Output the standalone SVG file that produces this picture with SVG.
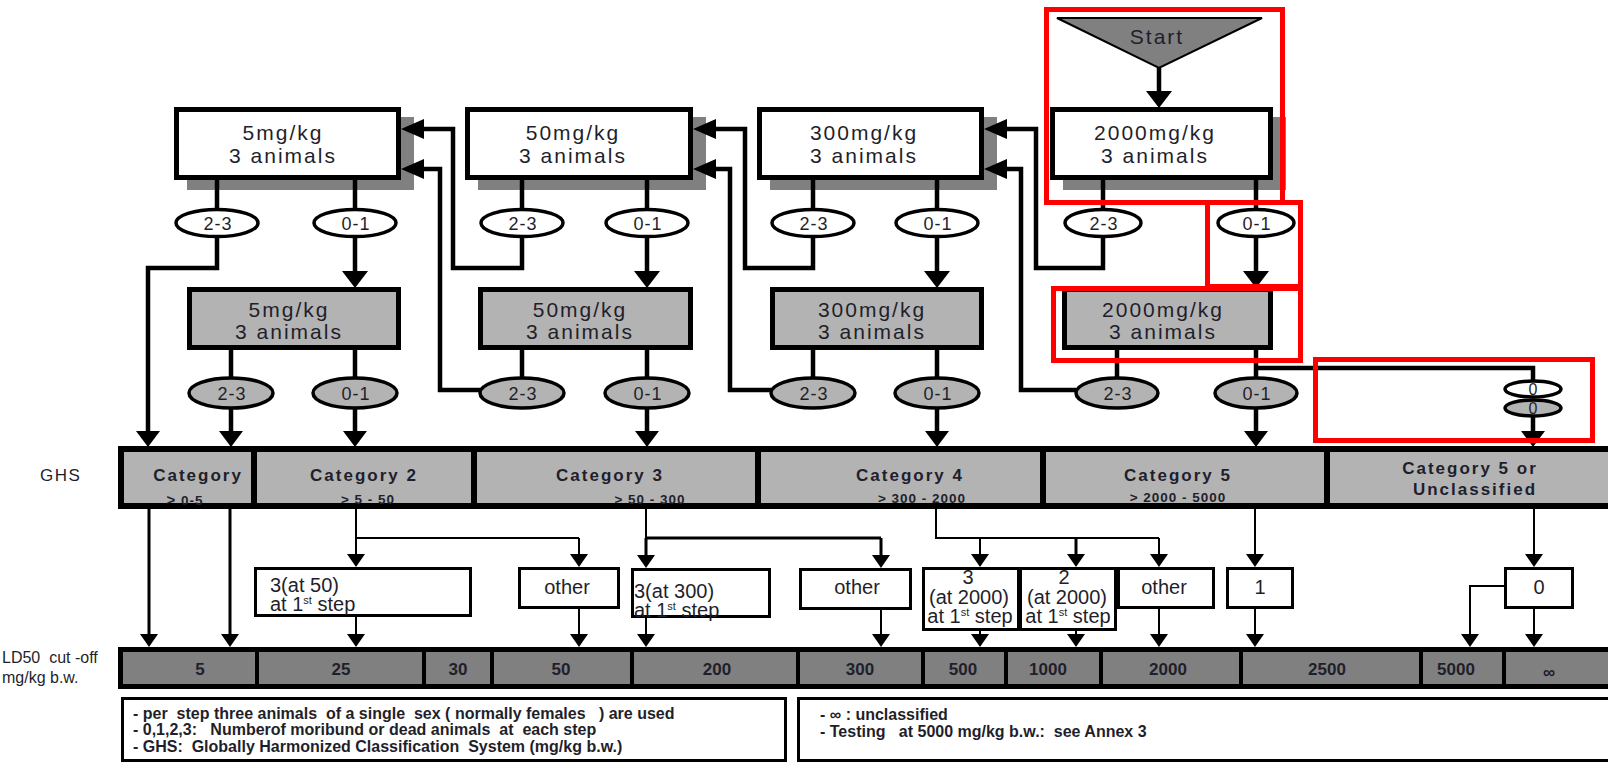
<svg xmlns="http://www.w3.org/2000/svg" xmlns:xlink="http://www.w3.org/1999/xlink" width="1608" height="763" viewBox="0 0 1608 763">
<style>
.t{font-family:"Liberation Sans",Arial,sans-serif;fill:#1f1f2b}
.dose{font-size:21px;letter-spacing:2px;text-anchor:middle}
.el{font-size:18px;letter-spacing:1px;text-anchor:middle}
.cat{font-size:17px;font-weight:bold;letter-spacing:2px;text-anchor:middle}
.sub{font-size:13.5px;font-weight:bold;letter-spacing:1px;text-anchor:middle}
.rt{font-size:20px}
.mid{text-anchor:middle}
.ld{font-size:17px;font-weight:bold;text-anchor:middle}
.leg{font-size:16px;font-weight:bold;white-space:pre}
.lab{font-size:16px;white-space:pre}
.wbox{fill:#fff;stroke:#000;stroke-width:5}
.gbox{fill:#b3b3b3;stroke:#000;stroke-width:5}
.shadow{fill:#808080}
.ew{fill:#fff;stroke:#000;stroke-width:3.5}
.eg{fill:#b3b3b3;stroke:#000;stroke-width:3.5}
.res{fill:#fff;stroke:#000;stroke-width:3}
.bar{fill:#b3b3b3;stroke:#000;stroke-width:6}
.ldbar{fill:#808080;stroke:#000;stroke-width:5}
.div{stroke:#000;stroke-width:6}
.ldiv{stroke:#000;stroke-width:4}
.legbox{fill:#fff;stroke:#000;stroke-width:3}
.thick{stroke:#000;stroke-width:4.5;fill:none;stroke-linejoin:miter}
.thin{stroke:#000;stroke-width:2;fill:none}
.med{stroke:#000;stroke-width:3;fill:none}
.red{fill:none;stroke:#ff0000;stroke-width:5}
</style>
<defs>
<polygon id="aB" points="-13,-17 13,-17 0,0" fill="#000"/>
<polygon id="aM" points="-12,-16 12,-16 0,0" fill="#000"/>
<polygon id="aS" points="-9,-13 9,-13 0,0" fill="#000"/>
<polygon id="aL" points="0,0 23,-10 23,10" fill="#000"/>
</defs>
<rect width="1608" height="763" fill="#fff"/>

<!-- start -->
<g id="start">
<polygon points="1057,18 1262,18 1159,68" fill="#808080" stroke="#000" stroke-width="2"/>
<text class="t" x="1157" y="44" font-size="21" letter-spacing="2" text-anchor="middle">Start</text>
</g>

<!-- top white boxes -->
<g id="w5">
<rect class="shadow" x="187" y="117" width="227" height="73"/>
<rect class="wbox" x="176.5" y="109.5" width="222" height="68"/>
<text class="t dose" x="283" y="140">5mg/kg</text>
<text class="t dose" x="283" y="163">3 animals</text>
</g>
<g id="w50">
<rect class="shadow" x="478" y="117" width="228" height="73"/>
<rect class="wbox" x="467.5" y="109.5" width="223" height="68"/>
<text class="t dose" x="573" y="140">50mg/kg</text>
<text class="t dose" x="573" y="163">3 animals</text>
</g>
<g id="w300">
<rect class="shadow" x="770" y="117" width="227" height="73"/>
<rect class="wbox" x="759.5" y="109.5" width="222" height="68"/>
<text class="t dose" x="864" y="140">300mg/kg</text>
<text class="t dose" x="864" y="163">3 animals</text>
</g>
<g id="w2000">
<rect class="shadow" x="1063" y="117" width="223" height="73"/>
<rect class="wbox" x="1052.5" y="109.5" width="218" height="68"/>
<text class="t dose" x="1155" y="140">2000mg/kg</text>
<text class="t dose" x="1155" y="163">3 animals</text>
</g>

<!-- gray boxes -->
<g id="g5">
<rect class="gbox" x="189.5" y="289.5" width="209" height="58"/>
<text class="t dose" x="289" y="317">5mg/kg</text>
<text class="t dose" x="289" y="339">3 animals</text>
</g>
<g id="g50">
<rect class="gbox" x="480.5" y="289.5" width="210" height="58"/>
<text class="t dose" x="580" y="317">50mg/kg</text>
<text class="t dose" x="580" y="339">3 animals</text>
</g>
<g id="g300">
<rect class="gbox" x="772.5" y="289.5" width="209" height="58"/>
<text class="t dose" x="872" y="317">300mg/kg</text>
<text class="t dose" x="872" y="339">3 animals</text>
</g>
<g id="g2000">
<rect class="gbox" x="1064.5" y="289.5" width="206" height="58"/>
<text class="t dose" x="1163" y="317">2000mg/kg</text>
<text class="t dose" x="1163" y="339">3 animals</text>
</g>

<!-- connectors -->
<g id="connectors">
<path class="thick" d="M1159 68V97"/>
<use xlink:href="#aB" x="1159" y="108"/>
<path class="thick" d="M217 180V210M355 180V210M522 180V210M647 180V210M813 180V210M937 180V210M1103 180V210M1256 180V210"/>
<path class="thick" d="M355 236V278M647 236V278M937 236V278M1256 236V278"/>
<use xlink:href="#aB" x="355" y="288"/>
<use xlink:href="#aB" x="647" y="288"/>
<use xlink:href="#aB" x="937" y="288"/>
<use xlink:href="#aB" x="1256" y="288"/>
<path class="thick" d="M217 236V268H148V436"/>
<use xlink:href="#aM" x="148" y="447"/>
<path class="thick" d="M522 236V268H453V129H410"/>
<use xlink:href="#aL" x="401" y="129"/>
<path class="thick" d="M813 236V268H745V129H702"/>
<use xlink:href="#aL" x="693" y="129"/>
<path class="thick" d="M1103 236V268H1036V129H993"/>
<use xlink:href="#aL" x="984" y="129"/>
<path class="thick" d="M231 350V378M355 350V378M522 350V378M647 350V378M813 350V378M937 350V378M1117 350V378M1256 350V378"/>
<path class="thick" d="M231 408V436M355 408V436M647 408V436M937 408V436M1256 408V436"/>
<use xlink:href="#aM" x="231" y="447"/>
<use xlink:href="#aM" x="355" y="447"/>
<use xlink:href="#aM" x="647" y="447"/>
<use xlink:href="#aM" x="937" y="447"/>
<use xlink:href="#aM" x="1256" y="447"/>
<path class="thick" d="M481 390H440V169H410"/>
<use xlink:href="#aL" x="401" y="169"/>
<path class="thick" d="M772 390H730V169H702"/>
<use xlink:href="#aL" x="693" y="169"/>
<path class="thick" d="M1076 390H1021V169H993"/>
<use xlink:href="#aL" x="984" y="169"/>
<path class="thick" d="M1256 368H1533V381"/>
<path class="thick" d="M1533 416V436"/>
<use xlink:href="#aM" x="1533" y="447"/>

<!-- GHS to results / LD50 -->
<path class="med" d="M149 509V637M230 509V637" stroke-width="3.5"/>
<use xlink:href="#aS" x="149" y="647"/>
<use xlink:href="#aS" x="230" y="647"/>
<path class="thin" d="M356 509V538H579"/>
<path class="thin" d="M356 538V557M579 538V557M356 616V637M579 609V637"/>
<use xlink:href="#aS" x="356" y="567"/>
<use xlink:href="#aS" x="579" y="567"/>
<use xlink:href="#aS" x="356" y="647"/>
<use xlink:href="#aS" x="579" y="647"/>
<path class="thin" d="M646 509V538"/>
<path class="med" d="M646 538H881M646 538V558M881 538V558"/>
<path class="thin" d="M646 618V637M881 609V637"/>
<use xlink:href="#aS" x="646" y="568"/>
<use xlink:href="#aS" x="881" y="568"/>
<use xlink:href="#aS" x="646" y="647"/>
<use xlink:href="#aS" x="881" y="647"/>
<path class="thin" d="M936 509V538H1159M980 538V557M1159 538V557"/>
<path class="med" d="M1076 538V557"/>
<use xlink:href="#aS" x="980" y="567"/>
<use xlink:href="#aS" x="1076" y="567"/>
<use xlink:href="#aS" x="1159" y="567"/>
<path class="thin" d="M980 630V637M1076 630V637M1159 609V637"/>
<use xlink:href="#aS" x="980" y="647"/>
<use xlink:href="#aS" x="1076" y="647"/>
<use xlink:href="#aS" x="1159" y="647"/>
<path class="thin" d="M1255 509V557M1255 609V637"/>
<use xlink:href="#aS" x="1255" y="567"/>
<use xlink:href="#aS" x="1255" y="647"/>
<path class="thin" d="M1534 509V557M1534 609V637M1504 586H1470V637"/>
<use xlink:href="#aS" x="1534" y="567"/>
<use xlink:href="#aS" x="1534" y="647"/>
<use xlink:href="#aS" x="1470" y="647"/>
</g>

<!-- ellipses top row -->
<g id="e5a"><ellipse class="ew" cx="217" cy="223" rx="41" ry="13.5"/><text class="t el" x="218" y="229.5">2-3</text></g>
<g id="e5b"><ellipse class="ew" cx="355" cy="223" rx="41" ry="13.5"/><text class="t el" x="356" y="229.5">0-1</text></g>
<g id="e50a"><ellipse class="ew" cx="522" cy="223" rx="41" ry="13.5"/><text class="t el" x="523" y="229.5">2-3</text></g>
<g id="e50b"><ellipse class="ew" cx="647" cy="223" rx="41" ry="13.5"/><text class="t el" x="648" y="229.5">0-1</text></g>
<g id="e300a"><ellipse class="ew" cx="813" cy="223" rx="41" ry="13.5"/><text class="t el" x="814" y="229.5">2-3</text></g>
<g id="e300b"><ellipse class="ew" cx="937" cy="223" rx="41" ry="13.5"/><text class="t el" x="938" y="229.5">0-1</text></g>
<g id="e2000a"><ellipse class="ew" cx="1103" cy="223" rx="38" ry="13.5"/><text class="t el" x="1104" y="229.5">2-3</text></g>
<g id="e2000b"><ellipse class="ew" cx="1256" cy="223" rx="38" ry="13.5"/><text class="t el" x="1257" y="229.5">0-1</text></g>

<!-- ellipses gray row -->
<g id="f5a"><ellipse class="eg" cx="231" cy="393" rx="42" ry="15"/><text class="t el" x="232" y="399.5">2-3</text></g>
<g id="f5b"><ellipse class="eg" cx="355" cy="393" rx="42" ry="15"/><text class="t el" x="356" y="399.5">0-1</text></g>
<g id="f50a"><ellipse class="eg" cx="522" cy="393" rx="42" ry="15"/><text class="t el" x="523" y="399.5">2-3</text></g>
<g id="f50b"><ellipse class="eg" cx="647" cy="393" rx="42" ry="15"/><text class="t el" x="648" y="399.5">0-1</text></g>
<g id="f300a"><ellipse class="eg" cx="813" cy="393" rx="42" ry="15"/><text class="t el" x="814" y="399.5">2-3</text></g>
<g id="f300b"><ellipse class="eg" cx="937" cy="393" rx="42" ry="15"/><text class="t el" x="938" y="399.5">0-1</text></g>
<g id="f2000a"><ellipse class="eg" cx="1117" cy="393" rx="41" ry="15"/><text class="t el" x="1118" y="399.5">2-3</text></g>
<g id="f2000b"><ellipse class="eg" cx="1256" cy="393" rx="41" ry="15"/><text class="t el" x="1257" y="399.5">0-1</text></g>
<g id="z0"><ellipse class="ew" cx="1533" cy="389" rx="28" ry="8" stroke-width="2"/><text class="t mid" x="1533" y="395" font-size="16">0</text></g>
<g id="z1"><ellipse class="eg" cx="1533" cy="408" rx="28" ry="8" stroke-width="2"/><text class="t mid" x="1533" y="414" font-size="16">0</text></g>

<!-- GHS bar -->
<text class="t" x="40" y="481" font-size="17" letter-spacing="1.5">GHS</text>
<g id="ghs">
<rect class="bar" x="121" y="449" width="1495" height="57"/>
<path class="div" d="M254 446V509M474 446V509M758 446V509M1043 446V509M1327 446V509"/>
<text class="t cat" x="198" y="481">Category</text>
<text class="t sub" x="185" y="505"><tspan font-size="15">&gt;</tspan>  0-5</text>
<text class="t cat" x="364" y="481">Category 2</text>
<text class="t sub" x="368" y="504">&gt; 5 - 50</text>
<text class="t cat" x="610" y="481">Category 3</text>
<text class="t sub" x="650" y="504">&gt;  50 - 300</text>
<text class="t cat" x="910" y="481">Category 4</text>
<text class="t sub" x="922" y="503">&gt; 300 - 2000</text>
<text class="t cat" x="1178" y="481">Category 5</text>
<text class="t sub" x="1178" y="502">&gt;  2000 - 5000</text>
<text class="t cat" x="1470" y="474">Category 5 or</text>
<text class="t cat" x="1475" y="495">Unclassified</text>
</g>

<!-- result boxes -->
<g id="r50">
<rect class="res" x="255.5" y="568.5" width="215" height="47"/>
<text class="t rt" x="270" y="592">3(at 50)</text>
<text class="t rt" x="270" y="611">at 1<tspan font-size="11" dy="-7">st</tspan><tspan dy="7"> step</tspan></text>
</g>
<g id="ro2">
<rect class="res" x="519.5" y="568.5" width="99" height="39"/>
<text class="t rt mid" x="567" y="594">other</text>
</g>
<g id="r300">
<rect class="res" x="632.5" y="569.5" width="137" height="47"/>
<text class="t rt" x="634" y="598">3(at 300)</text>
<text class="t rt" x="634" y="617"> at 1<tspan font-size="11" dy="-7">st</tspan><tspan dy="7"> step</tspan></text>
</g>
<g id="ro3">
<rect class="res" x="800.5" y="569.5" width="110" height="39"/>
<text class="t rt mid" x="857" y="594">other</text>
</g>
<g id="r2000a">
<rect class="res" x="923.5" y="568.5" width="95" height="61"/>
<text class="t rt mid" x="968" y="584">3</text>
<text class="t rt mid" x="969" y="604">(at 2000)</text>
<text class="t rt mid" x="970" y="623">at 1<tspan font-size="11" dy="-7">st</tspan><tspan dy="7"> step</tspan></text>
</g>
<g id="r2000b">
<rect class="res" x="1020.5" y="568.5" width="95" height="61"/>
<text class="t rt mid" x="1064" y="584">2</text>
<text class="t rt mid" x="1067" y="604">(at 2000)</text>
<text class="t rt mid" x="1068" y="623">at 1<tspan font-size="11" dy="-7">st</tspan><tspan dy="7"> step</tspan></text>
</g>
<g id="ro4">
<rect class="res" x="1118.5" y="568.5" width="95" height="39"/>
<text class="t rt mid" x="1164" y="594">other</text>
</g>
<g id="r1">
<rect class="res" x="1227.5" y="568.5" width="65" height="39"/>
<text class="t rt mid" x="1260" y="594">1</text>
</g>
<g id="r0">
<rect class="res" x="1505.5" y="568.5" width="67" height="39"/>
<text class="t rt mid" x="1539" y="594">0</text>
</g>

<!-- LD50 bar -->
<text class="t lab" x="2" y="663">LD50  cut -off</text>
<text class="t lab" x="2" y="683">mg/kg b.w.</text>
<g id="ld50">
<rect class="ldbar" x="120.5" y="649.5" width="1495" height="37"/>
<path class="ldiv" d="M257 647V689M424 647V689M492 647V689M632 647V689M798 647V689M923 647V689M1006 647V689M1101 647V689M1241 647V689M1421 647V689M1504 647V689"/>
<text class="t ld" x="200" y="675">5</text>
<text class="t ld" x="341" y="675">25</text>
<text class="t ld" x="458" y="675">30</text>
<text class="t ld" x="561" y="675">50</text>
<text class="t ld" x="717" y="675">200</text>
<text class="t ld" x="860" y="675">300</text>
<text class="t ld" x="963" y="675">500</text>
<text class="t ld" x="1048" y="675">1000</text>
<text class="t ld" x="1168" y="675">2000</text>
<text class="t ld" x="1327" y="675">2500</text>
<text class="t ld" x="1456" y="675">5000</text>
<text class="t ld" x="1549" y="678" font-size="14">∞</text>
</g>

<!-- legends -->
<g id="legend1">
<rect class="legbox" x="122.5" y="698.5" width="663" height="62"/>
<text class="t leg" x="133" y="719">- per  step three animals  of a single  sex ( normally females   ) are used</text>
<text class="t leg" x="133" y="735">- 0,1,2,3:   Numberof moribund or dead animals  at  each step</text>
<text class="t leg" x="133" y="752">- GHS:  Globally Harmonized Classification  System (mg/kg b.w.)</text>
</g>
<g id="legend2">
<rect class="legbox" x="798.5" y="698.5" width="820" height="62"/>
<text class="t leg" x="820" y="720">- ∞ : unclassified</text>
<text class="t leg" x="820" y="737">- Testing   at 5000 mg/kg b.w.:  see Annex 3</text>
</g>

<!-- red highlight frames -->
<g id="highlights">
<rect class="red" x="1046.5" y="9.5" width="236" height="193"/>
<rect class="red" x="1207.5" y="202.5" width="93" height="84"/>
<rect class="red" x="1053.5" y="288.5" width="247" height="72"/>
<rect class="red" x="1315.5" y="359.5" width="277" height="81"/>
</g>
</svg>
